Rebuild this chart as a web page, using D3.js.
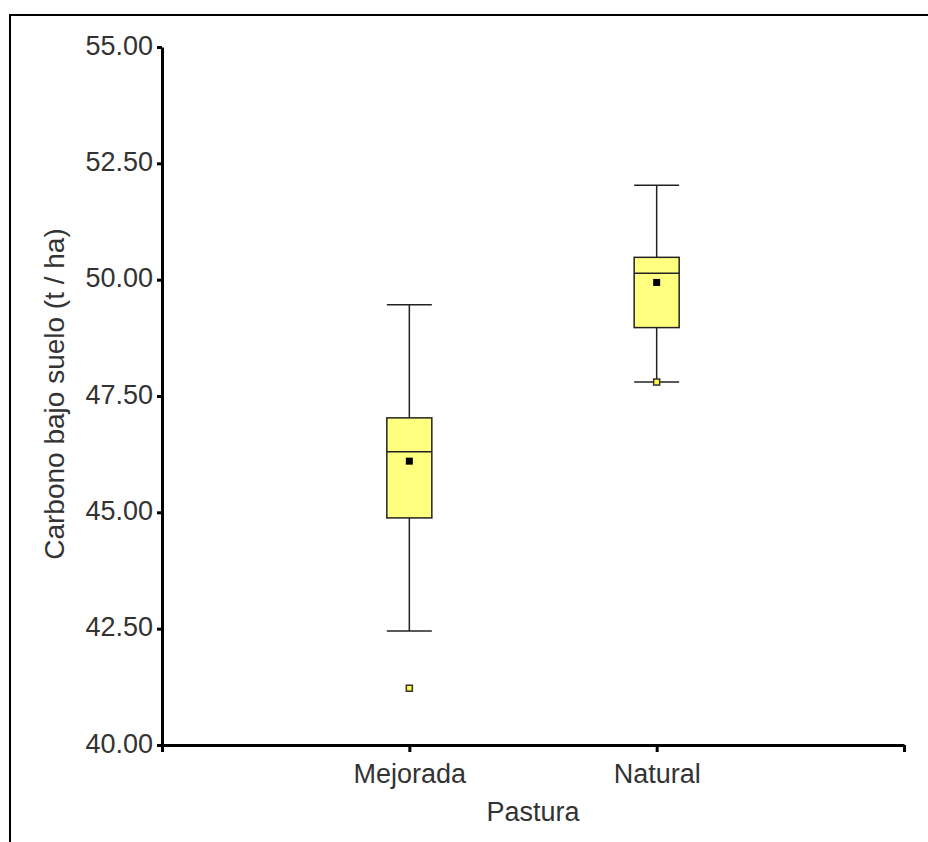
<!DOCTYPE html>
<html>
<head>
<meta charset="utf-8">
<script src="https://cdn.jsdelivr.net/npm/d3@7"></script>
<style>
  body { margin: 0; background: #fff; }
  text { font-family: "Liberation Sans", Arial, sans-serif; fill: #333; }
</style>
</head>
<body>
<div id="chart"></div>
<script>
const categories = ["Mejorada", "Natural"];
const whiskerLow = [42.45, 47.80];
const q1 = [44.88, 48.97];
const median = [46.30, 50.14];
const q3 = [47.03, 50.48];
const whiskerHigh = [49.46, 52.03];
const means = [46.10, 49.94];
const outliers = [[41.22], [47.80]];
const yTicks = [40, 42.5, 45, 47.5, 50, 52.5, 55];

const width = 928, height = 842;
const fontSize = 27;

const svg = d3.select("#chart")
    .append("svg")
    .attr("width", width)
    .attr("height", height);

// outer frame
svg.append("rect")
    .attr("x", 10)
    .attr("y", 15)
    .attr("width", width + 20)
    .attr("height", height + 20)
    .attr("fill", "none")
    .attr("stroke", "#000")
    .attr("stroke-width", 2);

const xScale = d3.scalePoint()
    .domain(["_start"].concat(categories, ["_end"]))
    .range([162, 904]);

const yScale = d3.scaleLinear()
    .domain([40, 55])
    .range([745, 47]);

const boxW = 45;

const boxes = categories.map((c, i) => ({
    cat: c, lo: whiskerLow[i], q1: q1[i], med: median[i], q3: q3[i],
    hi: whiskerHigh[i], mean: means[i], out: outliers[i]
}));

const g = svg.selectAll(".box")
    .data(boxes)
    .enter().append("g")
    .attr("class", "box");

// whiskers
g.append("line")
    .attr("x1", d => xScale(d.cat)).attr("x2", d => xScale(d.cat))
    .attr("y1", d => yScale(d.hi)).attr("y2", d => yScale(d.lo))
    .attr("stroke", "#222").attr("stroke-width", 1.5);

g.selectAll(".cap")
    .data(d => [d.lo, d.hi].map(v => ({ cat: d.cat, v: v })))
    .enter().append("line")
    .attr("x1", d => xScale(d.cat) - boxW / 2).attr("x2", d => xScale(d.cat) + boxW / 2)
    .attr("y1", d => yScale(d.v)).attr("y2", d => yScale(d.v))
    .attr("stroke", "#222").attr("stroke-width", 1.5);

g.append("rect")
    .attr("x", d => xScale(d.cat) - boxW / 2)
    .attr("y", d => yScale(d.q3))
    .attr("width", boxW)
    .attr("height", d => yScale(d.q1) - yScale(d.q3))
    .attr("fill", "#ffff80")
    .attr("stroke", "#222").attr("stroke-width", 1.5);

g.append("line")
    .attr("x1", d => xScale(d.cat) - boxW / 2).attr("x2", d => xScale(d.cat) + boxW / 2)
    .attr("y1", d => yScale(d.med)).attr("y2", d => yScale(d.med))
    .attr("stroke", "#222").attr("stroke-width", 1.5);

g.append("rect")
    .attr("x", d => xScale(d.cat) - 3.5)
    .attr("y", d => yScale(d.mean) - 3.5)
    .attr("width", 7).attr("height", 7)
    .attr("fill", "#000");

g.selectAll(".out")
    .data(d => d.out.map(v => ({ cat: d.cat, v: v })))
    .enter().append("rect")
    .attr("x", d => xScale(d.cat) - 3)
    .attr("y", d => yScale(d.v) - 3)
    .attr("width", 6).attr("height", 6)
    .attr("fill", "#ffff40")
    .attr("stroke", "#333").attr("stroke-width", 1.5);

// y axis
const yAxis = svg.append("g")
    .attr("transform", "translate(162,0)")
    .call(d3.axisLeft(yScale).tickValues(yTicks).tickFormat(d3.format(".2f"))
        .tickSize(5).tickSizeOuter(0).tickPadding(4));
yAxis.select(".domain").attr("stroke", "#000").attr("stroke-width", 3);
yAxis.selectAll(".tick line").attr("stroke", "#000").attr("stroke-width", 3);
yAxis.selectAll(".tick text")
    .attr("font-size", fontSize)
    .attr("dy", 7)
    .style("font-family", "'Liberation Sans', Arial, sans-serif")
    .attr("fill", "#333");

// x axis
const xAxis = svg.append("g")
    .attr("transform", "translate(0,745)")
    .call(d3.axisBottom(xScale).tickSize(7).tickSizeOuter(0).tickPadding(12)
        .tickFormat(d => d.startsWith("_") ? "" : d));
xAxis.select(".domain").attr("stroke", "#000").attr("stroke-width", 3);
xAxis.selectAll(".tick line").attr("stroke", "#000").attr("stroke-width", 3);
xAxis.selectAll(".tick text")
    .attr("font-size", fontSize)
    .style("font-family", "'Liberation Sans', Arial, sans-serif")
    .attr("fill", "#333");

svg.append("text")
    .attr("x", xScale("Mejorada") + (xScale("Natural") - xScale("Mejorada")) / 2)
    .attr("y", 821)
    .attr("text-anchor", "middle")
    .attr("font-size", fontSize)
    .text("Pastura");

svg.append("text")
    .attr("transform", "translate(64,394) rotate(-90)")
    .attr("text-anchor", "middle")
    .attr("font-size", 28)
    .text("Carbono bajo suelo (t / ha)");
</script>
</body>
</html>
